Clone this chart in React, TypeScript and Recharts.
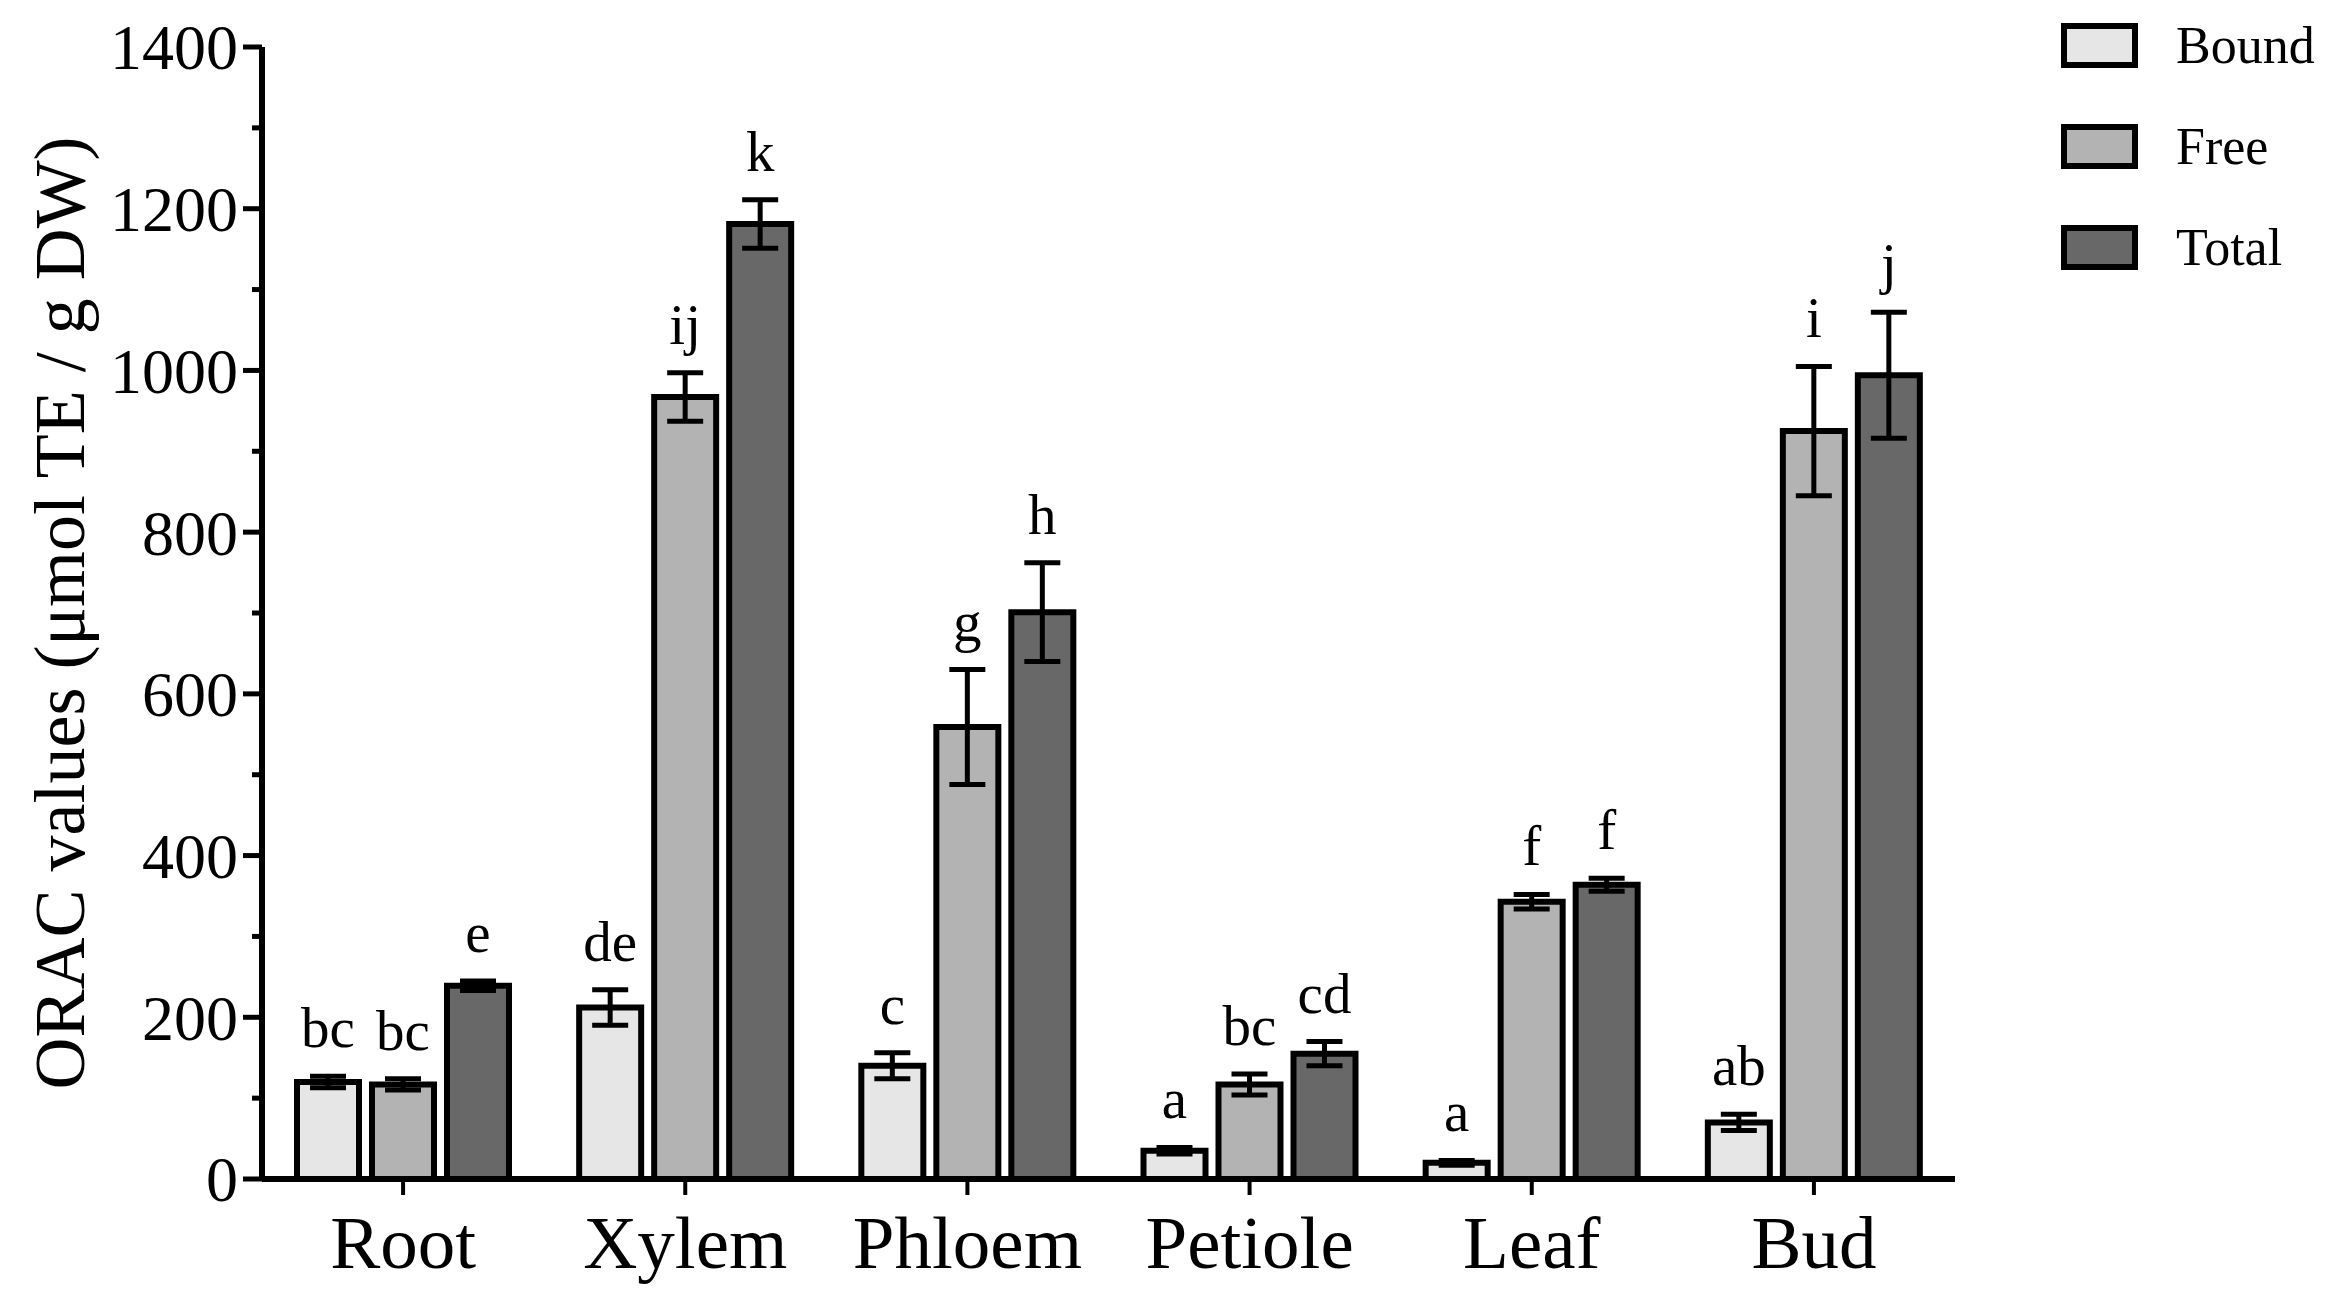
import React from "react";
import { BarChart, Bar, XAxis, YAxis, ErrorBar, Legend } from "recharts";

const FONT = '"Liberation Serif", "Times New Roman", serif';

// 器官ごとの ORAC 値（平均 ± 誤差）と有意差の文字
const categories = ["Root", "Xylem", "Phloem", "Petiole", "Leaf", "Bud"];

const boundValues = [120, 212, 140, 35, 20, 70];
const boundErrors = [7, 22, 16, 4, 3, 10];
const boundLetters = ["bc", "de", "c", "a", "a", "ab"];

const freeValues = [117, 967, 559, 117, 343, 925];
const freeErrors = [7, 30, 71, 13, 9, 80];
const freeLetters = ["bc", "ij", "g", "bc", "f", "i"];

const totalValues = [239, 1181, 701, 155, 364, 994];
const totalErrors = [6, 30, 61, 15, 8, 78];
const totalLetters = ["e", "k", "h", "cd", "f", "j"];

const yTicks = [0, 100, 200, 300, 400, 500, 600, 700, 800, 900, 1000, 1100, 1200, 1300, 1400];

const series = [
  { key: "bound", name: "Bound", fill: "#e6e6e6", values: boundValues, errors: boundErrors, letters: boundLetters },
  { key: "free", name: "Free", fill: "#b3b3b3", values: freeValues, errors: freeErrors, letters: freeLetters },
  { key: "total", name: "Total", fill: "#686868", values: totalValues, errors: totalErrors, letters: totalLetters },
];

const data = categories.map((name, i) => ({
  name,
  bound: boundValues[i],
  boundErr: boundErrors[i],
  free: freeValues[i],
  freeErr: freeErrors[i],
  total: totalValues[i],
  totalErr: totalErrors[i],
}));

// Y 軸：200 ごとにラベル付きの長い目盛り、100 ごとに短い目盛り
const YTick = (props: any) => {
  const { x, y, payload } = props;
  const axisX = x + 24;
  const major = payload.value % 200 === 0;
  return (
    <g>
      <line x1={axisX - (major ? 19 : 10)} x2={axisX} y1={y} y2={y} stroke="#000" strokeWidth={5} />
      {major && (
        <text x={x} y={y} dy="0.35em" textAnchor="end" fontSize={64} fontFamily={FONT} fill="#000">
          {payload.value}
        </text>
      )}
    </g>
  );
};

// エラーバーの上に有意差の文字を置く
const letterLabel = (values: number[], errors: number[], letters: string[]) => (props: any) => {
  const vb = props.viewBox && props.viewBox.width != null ? props.viewBox : props;
  const { x, y, width, height } = vb;
  let i = props.index;
  if (i == null) i = values.indexOf(props.value);
  if (i == null || i < 0 || !height) return null;
  const pxPerUnit = height / values[i];
  const errTop = y - errors[i] * pxPerUnit;
  return (
    <text
      x={x + width / 2}
      y={errTop - 29}
      textAnchor="middle"
      fontSize={57}
      fontFamily={FONT}
      fill="#000"
    >
      {letters[i]}
    </text>
  );
};

const renderLegend = () => (
  <svg width={268} height={260} style={{ overflow: "visible" }}>
    {series.map((s, i) => (
      <g key={s.key}>
        <rect x={3} y={3 + i * 101} width={71} height={39} fill={s.fill} stroke="#000" strokeWidth={6} />
        <text x={115} y={40 + i * 101} fontSize={52} fontFamily={FONT} fill="#000">
          {s.name}
        </text>
      </g>
    ))}
  </svg>
);

export default function App() {
  return (
    <div style={{ position: "absolute", left: 0, top: 0, background: "#fff" }}>
      <BarChart
        width={2334}
        height={1307}
        data={data}
        margin={{ top: 47, right: 111, bottom: 0, left: 0 }}
        barSize={62}
        barGap={13}
      >
        <XAxis
          dataKey="name"
          height={128}
          interval={0}
          tickSize={16}
          tickMargin={20}
          tickLine={{ stroke: "#000", strokeWidth: 4 }}
          axisLine={{ stroke: "#000", strokeWidth: 6 }}
          tick={{ fill: "#000", fontSize: 75, fontFamily: FONT }}
        />
        <YAxis
          width={262}
          domain={[0, 1400]}
          ticks={yTicks}
          interval={0}
          tickLine={false}
          tickSize={19}
          tickMargin={5}
          axisLine={{ stroke: "#000", strokeWidth: 6 }}
          tick={<YTick />}
          label={{
            value: "ORAC values (μmol TE / g DW)",
            angle: -90,
            position: "insideLeft",
            offset: 58,
            style: { textAnchor: "middle", fontSize: 72, fontFamily: FONT, fill: "#000" },
          }}
        />
        <Legend
          layout="vertical"
          align="right"
          verticalAlign="top"
          content={renderLegend}
          wrapperStyle={{ top: 23, right: 5, width: 268, height: 260 }}
        />
        {series.map((s) => (
          <Bar
            key={s.key}
            dataKey={s.key}
            name={s.name}
            fill={s.fill}
            stroke="#000"
            strokeWidth={6}
            isAnimationActive={false}
            label={letterLabel(s.values, s.errors, s.letters)}
          >
            <ErrorBar
              dataKey={`${s.key}Err`}
              width={18}
              strokeWidth={5}
              stroke="#000"
              direction="y"
              isAnimationActive={false}
            />
          </Bar>
        ))}
      </BarChart>
    </div>
  );
}
